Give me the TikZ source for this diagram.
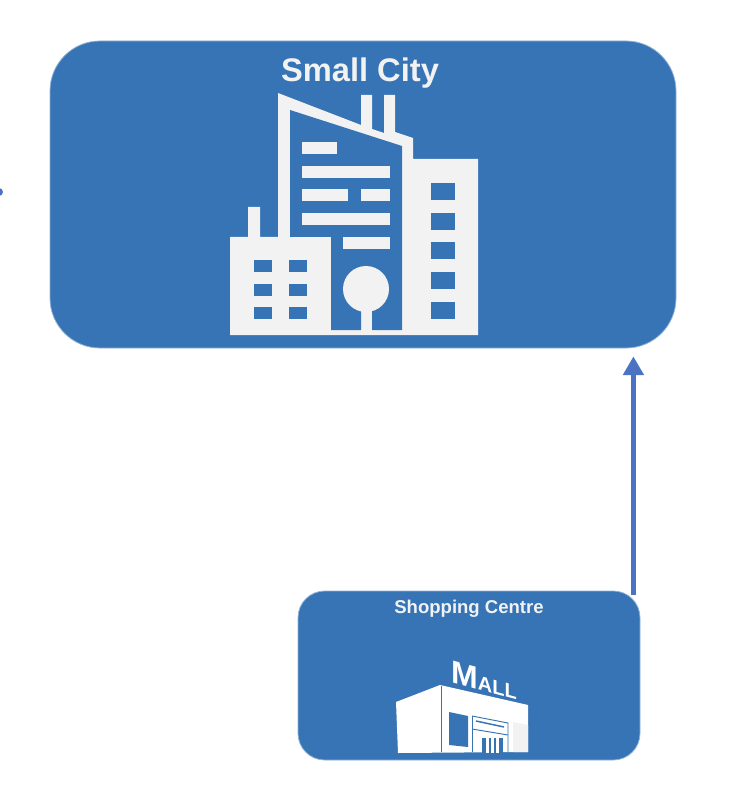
\documentclass[tikz,border=0pt]{standalone}
\usepackage{fontspec}
\setmainfont{Liberation Sans}
\usetikzlibrary{
  	positioning,
  	arrows.meta,
  	calc
  }
\definecolor{boxblue}{HTML}{3674B5}
\definecolor{arrowblue}{HTML}{4A73C4}
\definecolor{iconwhite}{HTML}{F2F2F2}
\tikzstyle{citybox}=[fill=boxblue,draw=boxblue!55!white,line width=.6pt,rounded corners=37.5pt,minimum width=469.5pt,minimum height=230.25pt,inner sep=0pt]
\tikzstyle{mallbox}=[fill=boxblue,draw=boxblue!55!white,line width=.6pt,rounded corners=20pt,minimum width=256.5pt,minimum height=126.75pt,inner sep=0pt]
\tikzstyle{title}=[text=iconwhite,font=\bfseries,inner sep=0pt]
\tikzstyle{icon}=[fill=iconwhite]
\tikzstyle{hole}=[fill=boxblue]
\tikzstyle{flow}=[draw=arrowblue,line width=3.9pt,-{Triangle[length=14pt,width=15pt]}]

\begin{document}
\begin{tikzpicture}[x=.75pt,y=-.75pt]
\useasboundingbox (0,0) rectangle (750,812);
\node [citybox] (city) at (363,194.5) {};
\node [mallbox] (mall) at (469,675.5) {};
\node [circle,fill=arrowblue,inner sep=0pt,minimum size=6pt] (stub) at (-1,192) {};
\node [title,font=\bfseries\fontsize{24.5}{26}\selectfont] (citytitle) at (360,73) {Small City};
\node [title,font=\bfseries\fontsize{13.9}{16}\selectfont] (malltitle) at (469,609) {Shopping Centre};
% tall block, right block, left block
\fill [icon] (278,93) -- (361,125) -- (361,95) -- (372,95) -- (372,129) -- (384,133) -- (384,95) -- (395,95)
   -- (395,132) -- (413,138) -- (413,159) -- (478,159) -- (478,335) -- (230,335) -- (230,237) -- (248,237)
   -- (248,207) -- (260,207) -- (260,237) -- (278,237) -- cycle;
\fill [hole] (290,110) -- (402,146) -- (402,330) -- (372,330) -- (372,300) -- (361,300) -- (361,330) -- (331,330)
   -- (331,237) -- (290,237) -- cycle;
\fill [icon] (366,289) circle [radius=23];
% bars of the tall block
\foreach \xa/\xb/\ya in {302/337/142,302/390/166,302/348/189,361/390/189,302/390/213,343/390/237}
  \fill [icon] (\xa,\ya) rectangle (\xb,\ya+12);
% windows
\foreach \ya in {183,213,242,272,302}
  \fill [hole] (431,\ya) rectangle (455,\ya+17.5);
\foreach \ya in {260,284,307}
  \foreach \xa in {254,289}
    \fill [hole] (\xa,\ya) rectangle (\xa+18,\ya+12);
% mall
\fill [white] (396,702) -- (440,685) -- (528,705) -- (528,752) -- (398,753) -- cycle;
\fill [iconwhite] (513,722) -- (528,725) -- (528,752) -- (513,752) -- cycle;
\draw [boxblue,line width=.7pt] (441,686) -- (441,752);
\fill [hole] (449,712) -- (468,716) -- (468,747) -- (449,745) -- cycle;
\draw [boxblue,line width=.7pt] (472,716) -- (508,723) -- (508,752);
\draw [boxblue,line width=.7pt] (472,716) -- (472,752);
\draw [boxblue,line width=1.1pt] (476,721) -- (504,727);
\draw [boxblue,line width=.7pt] (472,729) -- (508,735);
\fill [hole] (482,738) rectangle (503,753);
\foreach \xa in {486,491,496}
  \fill [white] (\xa,738) rectangle (\xa+2.5,753);
\node [text=white,font=\bfseries\fontsize{24}{25}\selectfont,inner sep=0pt,yslant=-.27,transform shape] (malllogo) at (484,680) {M\fontsize{15}{16}\selectfont ALL};
% arrow
\coordinate (flowfoot) at ([xshift=-5.25pt,yshift=-3pt]mall.north east);
\draw [flow,shorten >=6pt] (flowfoot) -- (flowfoot |- city.south);
\end{tikzpicture}
\end{document}
